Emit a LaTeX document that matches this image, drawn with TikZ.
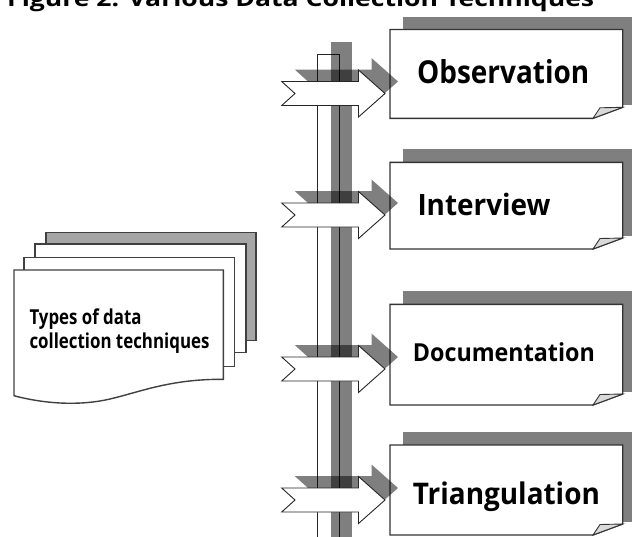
\documentclass[tikz,border=0pt]{standalone}
\usepackage{fontspec}
\setmainfont{Open Sans}
\usepackage{graphicx}
\begin{document}
\begin{tikzpicture}[x=1pt,y=-1pt,line join=miter,
  outl/.style={draw=black!80, line width=1.4pt},
  thinl/.style={draw=black!85, line width=0.9pt},
  pg/.style={draw=black!75, line width=1.4pt},
  shad/.style={fill=black, fill opacity=0.5},
  lbl/.style={inner sep=0pt, anchor=base west, font=\bfseries}]
\useasboundingbox (0,0) rectangle (632,536);
\begin{scope}
\clip (0,0) rectangle (632,536);
% title (cropped at the top)
\node[lbl] (title) at (7,6) {\resizebox{587pt}{\height}{\fontsize{22}{26}\selectfont Figure 2. Various Data Collection Techniques}};
% left stacked document
\draw[pg, fill=black!35] (46,232.3) rectangle (256,340.7);
\draw[pg, fill=white] (35,244) rectangle (246,352.7);
\draw[pg, fill=white] (24,257.7) rectangle (234.3,366.7);
\draw[pg, fill=white] (14,270) -- (223.3,270) -- (223.3,379.3)
  .. controls (170,379) and (140,392) .. (110,399)
  .. controls (80,406) and (45,404) .. (14,395.7) -- cycle;
\node[lbl] (types1) at (29.3,324) {\resizebox{112pt}{\height}{\fontsize{20.6}{24}\selectfont Types of data}};
\node[lbl] (types2) at (29.3,348.3) {\resizebox{180pt}{\height}{\fontsize{20.6}{24}\selectfont collection techniques}};
% boxes
\foreach \t/\b/\txt/\fs/\w/\bl/\tx/\nm in {
  29.5/118.3/Observation/31.6/172/83.3/417/obs,
  162.3/249/Interview/29.4/133/215/417.3/int,
  304.3/405/Documentation/24.8/182/361.7/412.7/doc,
  445/535/Triangulation/29.8/187/504/412.7/tri}{
  \fill[shad] (403,\t-13) -- (640,\t-13) -- (640,\b-13) -- (403,\b-13) -- cycle;
  \draw[outl, fill=white] (390,\t) -- (622.7,\t) -- (622.7,\b-11) -- (593,\b) -- (390,\b) -- cycle;
  \draw[draw=black!80, line width=0.9pt, fill=black!15] (593,\b) .. controls (596,\b-5) .. (600,\b-10.5) -- (622.7,\b-11) -- cycle;
  \node[lbl] (\nm) at (\tx,\bl) {\resizebox{\w pt}{\height}{\fontsize{\fs}{\fs}\selectfont \txt}};
}
% vertical bar and its shadow
\draw[thinl, fill=white] (317.3,545) -- (317.3,54) -- (339.3,54) -- (339.3,545);
\fill[shad] (331,42) rectangle (352,545);
% arrow shadows
\foreach \c in {93.5,215,369,500}{
  \fill[shad, shift={(13,-12)}] (281.7,\c-12) -- (358.5,\c-12) -- (358.5,\c-23.5) -- (385,\c) -- (358.5,\c+23.5) -- (358.5,\c+12) -- (281.7,\c+12) -- (295,\c) -- cycle;
}
% arrows
\foreach \c in {93.5,215,369,500}{
  \draw[thinl, fill=white] (281.7,\c-12) -- (358.5,\c-12) -- (358.5,\c-23.5) -- (385,\c) -- (358.5,\c+23.5) -- (358.5,\c+12) -- (281.7,\c+12) -- (295,\c) -- cycle;
}
\end{scope}
\end{tikzpicture}
\end{document}
